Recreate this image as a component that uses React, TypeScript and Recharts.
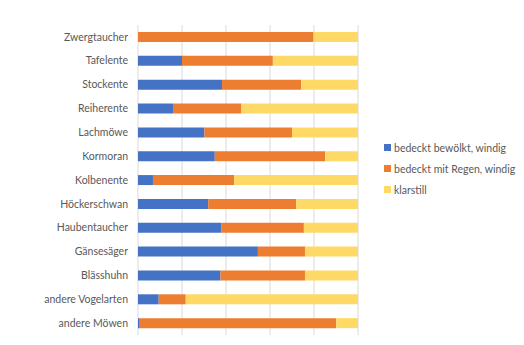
import { BarChart, Bar, XAxis, YAxis, CartesianGrid } from "recharts";

const categories = [
  "Zwergtaucher",
  "Tafelente",
  "Stockente",
  "Reiherente",
  "Lachmöwe",
  "Kormoran",
  "Kolbenente",
  "Höckerschwan",
  "Haubentaucher",
  "Gänsesäger",
  "Blässhuhn",
  "andere Vogelarten",
  "andere Möwen",
];

// Anteile in %
const bewoelkt = [0, 20, 38.2, 15.9, 30.2, 34.9, 6.8, 31.9, 37.8, 54.5, 37.5, 9.4, 0.8];
const regen = [79.8, 41.3, 36, 31.1, 39.8, 50.2, 36.9, 40, 37.6, 21.4, 38.4, 12.3, 89.3];
const klarstill = [20.2, 38.7, 25.8, 53, 30, 14.9, 56.3, 28.1, 24.6, 24.1, 24.1, 78.3, 9.9];

const SERIES = [
  { key: "bewoelkt", label: "bedeckt bewölkt, windig", color: "#4472C4" },
  { key: "regen", label: "bedeckt mit Regen, windig", color: "#ED7D31" },
  { key: "klarstill", label: "klarstill", color: "#FFD966" },
];

const data = categories.map((name, i) => ({
  name,
  bewoelkt: bewoelkt[i],
  regen: regen[i],
  klarstill: klarstill[i],
}));

const FONT = "Lato, 'Open Sans', sans-serif";

function LegendBox() {
  return (
    <div
      style={{
        position: "absolute",
        left: 384,
        top: 137,
        fontFamily: FONT,
        fontSize: 10.5,
        color: "#595959",
      }}
    >
      {SERIES.map((s) => (
        <div
          key={s.key}
          style={{ display: "flex", alignItems: "center", height: 21 }}
        >
          <span
            style={{
              width: 7,
              height: 7,
              background: s.color,
              marginRight: 3,
              display: "inline-block",
            }}
          />
          <span>{s.label}</span>
        </div>
      ))}
    </div>
  );
}

export default function App() {
  return (
    <div
      style={{
        position: "absolute",
        left: 0,
        top: 0,
        width: 524,
        height: 345,
        background: "#fff",
      }}
    >
      <BarChart
        width={524}
        height={345}
        data={data}
        layout="vertical"
        margin={{ top: 25, right: 166, bottom: 10, left: 0 }}
        barSize={10}
      >
        <CartesianGrid horizontal={false} stroke="#D9D9D9" />
        <XAxis
          type="number"
          domain={[0, 100]}
          ticks={[0, 20, 40, 60, 80, 100]}
          hide
        />
        <YAxis
          type="category"
          dataKey="name"
          width={138}
          axisLine={false}
          tickLine={false}
          tickMargin={4}
          interval={0}
          tick={{ fill: "#595959", fontSize: 10.5, fontFamily: FONT }}
        />
        {SERIES.map((s) => (
          <Bar
            key={s.key}
            dataKey={s.key}
            stackId="a"
            fill={s.color}
            isAnimationActive={false}
          />
        ))}
      </BarChart>
      <LegendBox />
    </div>
  );
}
